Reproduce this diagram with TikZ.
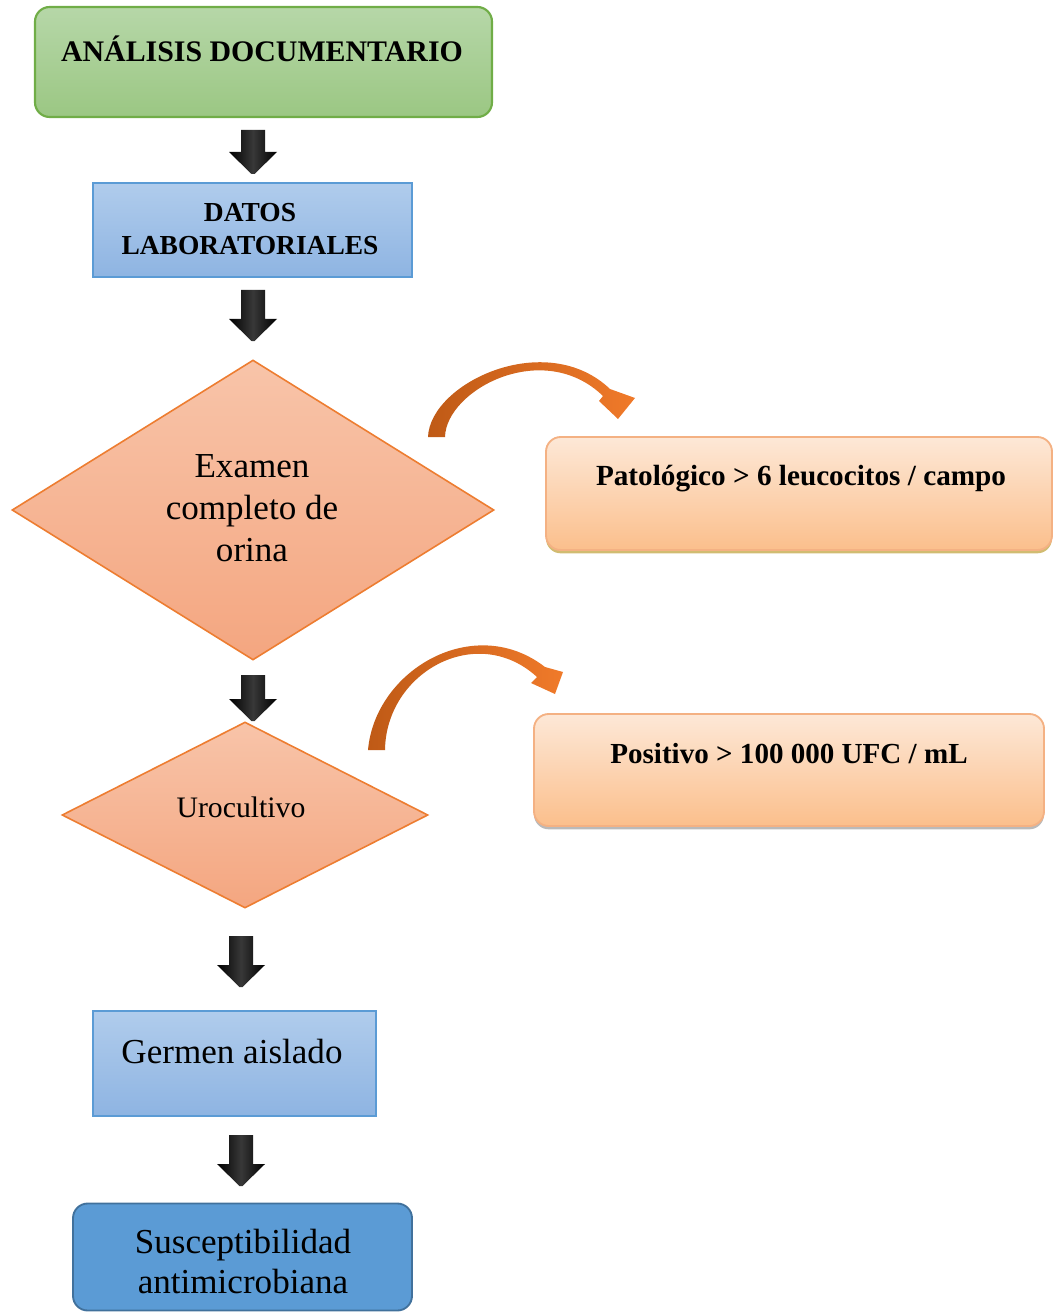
\documentclass[tikz,border=0pt]{standalone}
\usepackage{fontspec}
\setmainfont{Liberation Serif}
\usetikzlibrary{shapes.geometric,arrows.meta,shadows}
\definecolor{gTop}{HTML}{B6D7A8}
\definecolor{gBot}{HTML}{9BC783}
\definecolor{gLine}{HTML}{70AD47}
\definecolor{bTop}{HTML}{B0CCEC}
\definecolor{bBot}{HTML}{8EB4E2}
\definecolor{bLine}{HTML}{5B9BD5}
\definecolor{dTop}{HTML}{F8C4A9}
\definecolor{dBot}{HTML}{F4A680}
\definecolor{dLine}{HTML}{ED7D31}
\definecolor{oTop}{HTML}{FDE8D7}
\definecolor{oBot}{HTML}{FBBF8C}
\definecolor{oLine}{HTML}{F4B183}
\definecolor{sFill}{HTML}{5B9BD5}
\definecolor{sLine}{HTML}{41719C}
\definecolor{curveL}{HTML}{BF5A16}
\definecolor{curveR}{HTML}{F07A2A}
\def\u{0.75pt}
\begin{document}
\begin{tikzpicture}[x=0.75pt,y=-0.75pt,
  greenbox/.style={draw=gLine,line width=1.6pt,rounded corners=11pt,top color=gTop,bottom color=gBot},
  bluebox/.style={draw=bLine,line width=1.6pt,top color=bTop,bottom color=bBot},
  darkbox/.style={draw=sLine,line width=1.4pt,rounded corners=11pt,fill=sFill},
  decision/.style={diamond,draw=dLine,line width=1.2pt,top color=dTop,bottom color=dBot,inner sep=0pt},
  resultbox/.style={draw=oLine,line width=1.4pt,rounded corners=11pt,top color=oTop,bottom color=oBot},
  curvearrow/.style={left color=curveL,right color=curveR,draw=none},
  boldcap/.style={font=\fontsize{22.4}{27}\selectfont\bfseries,anchor=base,inner sep=0pt},
  bigtext/.style={font=\fontsize{26.3}{31}\selectfont,anchor=base,inner sep=0pt},
  restext/.style={font=\fontsize{21.9}{26}\selectfont\bfseries,anchor=base,inner sep=0pt},
  blockarrow/.pic={
    \shade[left color=black,right color=black,middle color=black!78!white]
      (-12,0) -- (12,0) -- (12,\pgfkeysvalueof{/tikz/arrowlen}-22) -- (24,\pgfkeysvalueof{/tikz/arrowlen}-22)
      -- (1.5,\pgfkeysvalueof{/tikz/arrowlen}) -- (-1.5,\pgfkeysvalueof{/tikz/arrowlen})
      -- (-24,\pgfkeysvalueof{/tikz/arrowlen}-22) -- (-12,\pgfkeysvalueof{/tikz/arrowlen}-22) -- cycle;
  },
  arrowlen/.initial=46
]
\useasboundingbox (0,0) rectangle (1054,1312);

% boxes
\node[greenbox,minimum width=457*\u,minimum height=110*\u] (doc) at (263.5,62) {};
\node[bluebox,minimum width=319*\u,minimum height=94*\u] (lab) at (252.5,230) {};
\node[decision,minimum width=482*\u,minimum height=300*\u] (ego) at (253,510) {};
\node[decision,minimum width=366*\u,minimum height=186*\u] (uro) at (245,815) {};
\node[resultbox,drop shadow={shadow xshift=0pt,shadow yshift=-2.5pt,fill=black!40!yellow!70!orange,opacity=.7},minimum width=506*\u,minimum height=113*\u] (pat) at (799,493.5) {};
\node[resultbox,drop shadow={shadow xshift=0pt,shadow yshift=-2.5pt,fill=black!45,opacity=.6},minimum width=510*\u,minimum height=112*\u] (pos) at (789,770) {};
\node[bluebox,minimum width=283*\u,minimum height=105*\u] (ger) at (234.5,1063.5) {};
\node[darkbox,minimum width=339*\u,minimum height=107*\u] (sus) at (242.5,1257) {};

% texts
\node[boldcap] (docT) at (262,62) {ANÁLISIS DOCUMENTARIO};
\node[boldcap,font=\fontsize{20.6}{25}\selectfont\bfseries] (labT1) at (250,222) {DATOS};
\node[boldcap,font=\fontsize{20.6}{25}\selectfont\bfseries] (labT2) at (250,255) {LABORATORIALES};
\node[bigtext] (egoT1) at (252,477) {Examen};
\node[bigtext] (egoT2) at (252,519) {completo de};
\node[bigtext] (egoT3) at (252,561) {orina};
\node[bigtext,font=\fontsize{22.3}{27}\selectfont] (uroT) at (241,817) {Urocultivo};
\node[restext] (patT) at (801,485) {Patológico > 6 leucocitos / campo};
\node[restext,font=\fontsize{21.8}{26}\selectfont\bfseries] (posT) at (789,763) {Positivo > 100 000 UFC / mL};
\node[bigtext] (gerT) at (232,1063) {Germen aislado};
\node[bigtext] (susT1) at (243,1253) {Susceptibilidad};
\node[bigtext] (susT2) at (243,1293) {antimicrobiana};

% block arrows between boxes
\coordinate (a1) at (253,130);
\coordinate (a2) at (253,290);
\coordinate (a3) at (253,675);
\coordinate (a4) at (241,936);
\coordinate (a5) at (241,1135);
\pic[arrowlen=44] at (a1) {blockarrow};
\pic[arrowlen=51] at (a2) {blockarrow};
\pic[arrowlen=46] at (a3) {blockarrow};
\pic[arrowlen=51] at (a4) {blockarrow};
\pic[arrowlen=51] at (a5) {blockarrow};

% curved (tapered) arrows
\coordinate (c1s) at (428,437);
\coordinate (c1e) at (618,419);
\coordinate (c2s) at (368,750);
\coordinate (c2e) at (555,694);
\shade[curvearrow] (c1s) .. controls (430,383) and (546,328) .. (610,389)
  -- (635,398) -- (c1e) -- (599,401) -- (603,396)
  .. controls (543,338) and (446,390) .. (445,437) -- cycle;
\shade[curvearrow] (c2s) .. controls (375,670) and (474,612) .. (545,667)
  -- (563,672) -- (c2e) -- (531,683) -- (537,677)
  .. controls (477,622) and (386,672) .. (385,750) -- cycle;
\end{tikzpicture}
\end{document}
